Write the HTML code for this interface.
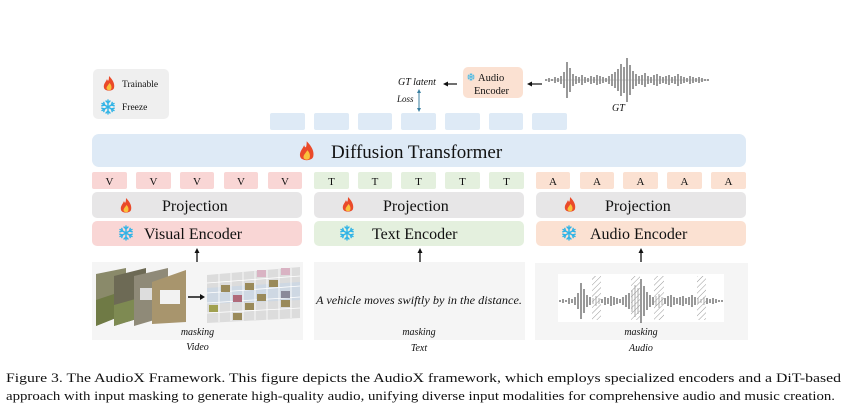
<!DOCTYPE html>
<html><head><meta charset="utf-8"><style>
html,body{margin:0;padding:0;background:#fff;width:860px;height:419px;overflow:hidden}
svg{display:block}
text{font-family:"Liberation Serif",serif;fill:#111}
</style></head><body>
<svg width="860" height="419" viewBox="0 0 860 419" xmlns="http://www.w3.org/2000/svg">
<defs>
<g id="fire">
<path d="M0 -8 C4 -4 6 0 5 4 C4 7.5 -4 7.5 -5 4 C-6 0 -3 -2 -2 -5 C-1 -2 0 -3 0 -8Z" fill="#ea4a2a"/>
<path d="M0.5 -1 C2.5 1 3 3.5 2 5.5 C1 6.5 -1.5 6.5 -2.3 5 C-3 3 -1 1.5 0.5 -1Z" fill="#f9c23c"/>
</g>
<g id="snow" stroke="#2fb3e6" stroke-width="1.4" stroke-linecap="round" fill="none">
<path d="M0 -7V7M-6 -3.5L6 3.5M-6 3.5L6 -3.5"/>
<path d="M-2 -6L0 -4L2 -6M-2 6L0 4L2 6M-6.2 -1.2L-3.5 -2L-4.2 -4.6M6.2 1.2L3.5 2L4.2 4.6M-6.2 1.2L-3.5 2L-4.2 4.6M6.2 -1.2L3.5 -2L4.2 -4.6"/>
</g>
<pattern id="hatch" width="4" height="4" patternUnits="userSpaceOnUse" patternTransform="rotate(45)">
<rect width="4" height="4" fill="#fff" fill-opacity="0.6"/>
<line x1="0" y1="0" x2="0" y2="4" stroke="#999" stroke-width="1"/>
</pattern>
<path id="wave" d="M546 79V81M549 78V82M552 79V81M555 77V83M558 78V82M561 76V84M564 72V88M567 62V98M570 68V92M573 74V86M576 76V84M579 77V83M582 75V85M585 77V83M588 78V82M591 76V84M594 77V83M597 75V85M600 76V84M603 77V83M606 78V82M609 76V84M612 74V86M615 72V88M618 69V91M621 64V96M624 67V93M627 58V102M630 65V95M633 71V89M636 74V86M639 76V84M642 75V85M645 73V87M648 76V84M651 77V83M654 75V85M657 74V86M660 76V84M663 77V83M666 76V84M669 75V85M672 77V83M675 76V84M678 74V86M681 76V84M684 77V83M687 78V82M690 76V84M693 77V83M696 78V82M699 77V83M702 78V82M705 79V81M708 79V81"/>
</defs>

<!-- legend -->
<rect x="93" y="69" width="76" height="50" rx="5" fill="#efefef"/>
<use href="#fire" x="109" y="84"/>
<text x="122" y="87" font-size="9.5">Trainable</text>
<use href="#snow" x="108" y="107"/>
<text x="122" y="110" font-size="9.5">Freeze</text>

<!-- GT section -->
<rect x="463" y="67" width="60" height="31" rx="5" fill="#fbe1d2"/>
<use href="#snow" x="471" y="77" transform="translate(235.5,38.5) scale(0.5)"/>
<text x="478" y="81" font-size="10.5">Audio</text>
<text x="474" y="94" font-size="10.5">Encoder</text>
<text x="398" y="85" font-size="10" font-style="italic">GT latent</text>
<path d="M457 84H447" stroke="#111" stroke-width="1.2"/><path d="M443 84l5 -2.5v5z" fill="#111"/>
<path d="M542 84H531" stroke="#111" stroke-width="1.2"/><path d="M527 84l5 -2.5v5z" fill="#111"/>
<text x="397" y="102" font-size="9" font-style="italic">Loss</text>
<path d="M419 92V109" stroke="#3a7fa0" stroke-width="1"/>
<path d="M419 89l-2 4h4z M419 112l-2 -4h4z" fill="#3a7fa0"/>
<use href="#wave" stroke="#333" stroke-width="1"/>
<path d="M547 80H708" stroke="#888" stroke-width="0.4"/>
<text x="612" y="111" font-size="10" font-style="italic">GT</text>

<!-- latent blocks -->
<g fill="#deeaf6">
<rect x="270" y="113" width="35" height="17" rx="2"/>
<rect x="314" y="113" width="35" height="17" rx="2"/>
<rect x="358" y="113" width="34" height="17" rx="2"/>
<rect x="401" y="113" width="35" height="17" rx="2"/>
<rect x="445" y="113" width="35" height="17" rx="2"/>
<rect x="489" y="113" width="34" height="17" rx="2"/>
<rect x="532" y="113" width="35" height="17" rx="2"/>
</g>

<!-- DiT -->
<rect x="92" y="134" width="654" height="33" rx="7" fill="#deeaf6"/>
<use href="#fire" x="309" y="152" transform="translate(-95,-46) scale(1.3)"/>
<text x="331" y="158" font-size="19">Diffusion Transformer</text>

<!-- tokens -->
<g font-size="11" text-anchor="middle">
<g fill="#f9d6d5">
<rect x="92" y="172" width="35" height="17" rx="2"/><rect x="136" y="172" width="35" height="17" rx="2"/><rect x="180" y="172" width="34" height="17" rx="2"/><rect x="224" y="172" width="34" height="17" rx="2"/><rect x="268" y="172" width="34" height="17" rx="2"/>
</g>
<text x="109.5" y="185">V</text><text x="153.5" y="185">V</text><text x="197" y="185">V</text><text x="241" y="185">V</text><text x="285" y="185">V</text>
<g fill="#e4f0de">
<rect x="314" y="172" width="35" height="17" rx="2"/><rect x="358" y="172" width="34" height="17" rx="2"/><rect x="401" y="172" width="35" height="17" rx="2"/><rect x="445" y="172" width="35" height="17" rx="2"/><rect x="489" y="172" width="35" height="17" rx="2"/>
</g>
<text x="331.5" y="185">T</text><text x="375" y="185">T</text><text x="418.5" y="185">T</text><text x="462.5" y="185">T</text><text x="506.5" y="185">T</text>
<g fill="#fbe1d2">
<rect x="536" y="172" width="34" height="17" rx="2"/><rect x="580" y="172" width="34" height="17" rx="2"/><rect x="623" y="172" width="35" height="17" rx="2"/><rect x="667" y="172" width="35" height="17" rx="2"/><rect x="711" y="172" width="35" height="17" rx="2"/>
</g>
<text x="553" y="185">A</text><text x="597" y="185">A</text><text x="640.5" y="185">A</text><text x="684.5" y="185">A</text><text x="728.5" y="185">A</text>
</g>

<!-- projection -->
<g fill="#e7e6e7">
<rect x="92" y="192" width="210" height="26" rx="5"/>
<rect x="314" y="192" width="210" height="26" rx="5"/>
<rect x="536" y="192" width="210" height="26" rx="5"/>
</g>
<use href="#fire" x="126" y="206"/>
<use href="#fire" x="348" y="205"/>
<use href="#fire" x="570" y="205"/>
<g font-size="16"><text x="162" y="211">Projection</text><text x="383" y="211">Projection</text><text x="605" y="211">Projection</text></g>

<!-- encoders -->
<rect x="92" y="221" width="210" height="25" rx="5" fill="#f9d6d5"/>
<rect x="314" y="221" width="210" height="25" rx="5" fill="#e4f0de"/>
<rect x="536" y="221" width="210" height="25" rx="5" fill="#fbe1d2"/>
<use href="#snow" x="126" y="233"/>
<use href="#snow" x="347" y="233"/>
<use href="#snow" x="569" y="233"/>
<g font-size="16"><text x="144" y="239">Visual Encoder</text><text x="372" y="239">Text Encoder</text><text x="590" y="239">Audio Encoder</text></g>

<!-- arrows up -->
<g stroke="#111" stroke-width="1.3"><path d="M197 262V252M420 262V252M641 262V252"/></g>
<g fill="#111"><path d="M197 248l-2.5 5h5zM420 248l-2.5 5h5zM641 248l-2.5 5h5z"/></g>

<!-- bottom panels -->
<rect x="92" y="262" width="211" height="78" fill="#f5f5f5"/>
<rect x="314" y="262" width="211" height="78" fill="#f5f5f5"/>
<rect x="535" y="263" width="213" height="77" fill="#f5f5f5"/>

<!-- video frames -->
<polygon points="96,274 126,268 126,314 96,326" fill="#8a8a6a"/>
<polygon points="96,300 126,290 126,314 96,326" fill="#6f7a45"/>
<polygon points="114,276 146,268 146,316 114,326" fill="#6d6a55"/>
<polygon points="114,305 146,296 146,316 114,326" fill="#7e8a52"/>
<polygon points="134,276 168,268 168,316 134,326" fill="#8f8a78"/>
<rect x="140" y="288" width="18" height="12" fill="#ddd"/>
<polygon points="152,282 186,270 186,322 152,324" fill="#a8956d"/>
<rect x="160" y="290" width="20" height="14" fill="#f2f2f2"/>
<path d="M188 297H200" stroke="#111" stroke-width="1.5"/><path d="M205 297l-5 -3v6z" fill="#111"/>
<!-- masked grid -->
<polygon points="207,275 300,267 300,318 207,323" fill="#dcdcdc"/>
<polygon points="207,288 300,282 300,300 207,304" fill="#c8d6e6" opacity="0.7"/>
<g stroke="#fff" stroke-width="0.8">
<path d="M219 274V322M231 273V321M243 272V321M255 271V320M267 270V320M279 269V319M291 268V318"/>
<path d="M207 283L300 276M207 293L300 286M207 303L300 297M207 313L300 308"/>
</g>
<g fill="#9a8a5a">
<rect x="221" y="285" width="9" height="7"/><rect x="245" y="283" width="9" height="7"/><rect x="269" y="280" width="9" height="7"/>
<rect x="233" y="295" width="9" height="7" fill="#b06a7a"/><rect x="257" y="294" width="9" height="7"/><rect x="281" y="291" width="9" height="7" fill="#8a8a9a"/>
<rect x="209" y="305" width="9" height="7" fill="#a0a050"/><rect x="245" y="303" width="9" height="7"/><rect x="281" y="300" width="9" height="7"/>
<rect x="233" y="313" width="9" height="7"/>
</g>
<g fill="#d9b3c3"><rect x="257" y="270" width="9" height="7"/><rect x="281" y="268" width="9" height="7"/></g>

<text x="197.5" y="335" font-size="10" font-style="italic" text-anchor="middle">masking</text>
<text x="197.5" y="350" font-size="10" font-style="italic" text-anchor="middle">Video</text>

<text x="419" y="304" font-size="11.5" font-style="italic" text-anchor="middle" textLength="206" lengthAdjust="spacingAndGlyphs">A vehicle moves swiftly by in the distance.</text>
<text x="419" y="335" font-size="10" font-style="italic" text-anchor="middle">masking</text>
<text x="419" y="351" font-size="10" font-style="italic" text-anchor="middle">Text</text>

<rect x="558" y="274" width="166" height="48" fill="#fff"/>
<use href="#wave" stroke="#333" stroke-width="1" transform="translate(14,221)"/>
<g fill="url(#hatch)">
<rect x="592" y="276" width="9" height="44"/><rect x="631" y="276" width="9" height="44"/><rect x="654" y="276" width="10" height="44"/><rect x="697" y="276" width="9" height="44"/>
</g>
<text x="641" y="335" font-size="10" font-style="italic" text-anchor="middle">masking</text>
<text x="641" y="351" font-size="10" font-style="italic" text-anchor="middle">Audio</text>

<!-- caption -->
<text x="6" y="382" font-size="13" textLength="835" lengthAdjust="spacingAndGlyphs">Figure 3.  The AudioX Framework.  This figure depicts the AudioX framework, which employs specialized encoders and a DiT-based</text>
<text x="6" y="400" font-size="13" textLength="829" lengthAdjust="spacingAndGlyphs">approach with input masking to generate high-quality audio, unifying diverse input modalities for comprehensive audio and music creation.</text>
</svg>
</body></html>
